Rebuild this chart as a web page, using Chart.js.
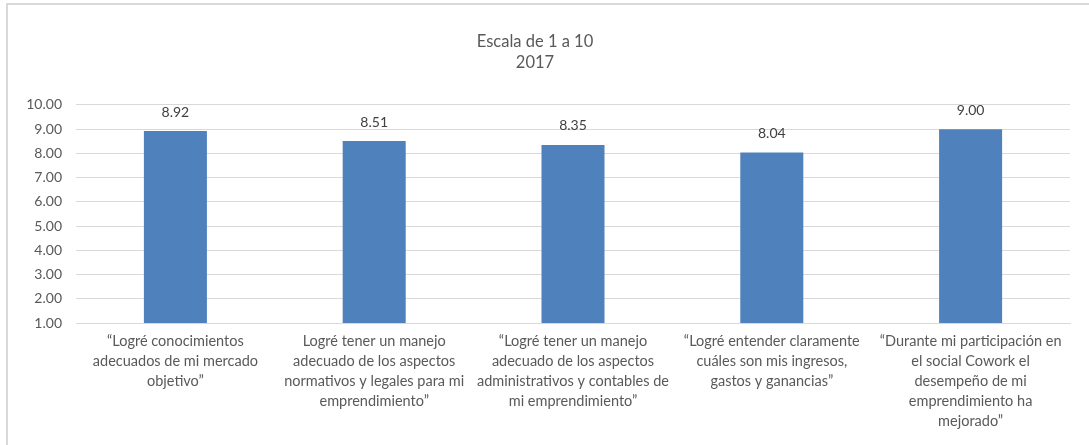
<!DOCTYPE html>
<html>
<head>
<meta charset="utf-8">
<script src="https://cdn.jsdelivr.net/npm/chart.js@4.4.1/dist/chart.umd.min.js"></script>
<style>
  html, body { margin: 0; padding: 0; background: #fff; }
  #wrap { position: relative; width: 1089px; height: 445px; }
  #frame { position: absolute; left: 6px; top: 3px; right: 0; bottom: 0;
           border-left: 2px solid #d9d9d9; border-top: 2px solid #d9d9d9; }
  canvas { position: absolute; left: 0; top: 0; }
</style>
</head>
<body>
<div id="wrap">
  <div id="frame"></div>
  <canvas id="chart" width="1089" height="445"></canvas>
</div>
<script>
// categorias (ya partidas en lineas como en el original)
var categorias = [
    ["\u201cLogré conocimientos", "adecuados de mi mercado", "objetivo\u201d"],
    ["Logré tener un manejo", "adecuado de los aspectos", "normativos y legales para mi", "emprendimiento\u201d"],
    ["\u201cLogré tener un manejo", "adecuado de los aspectos", "administrativos y contables de", "mi emprendimiento\u201d"],
    ["\u201cLogré entender claramente", "cuáles son mis ingresos,", "gastos y ganancias\u201d"],
    ["\u201cDurante mi participación en", "el social Cowork el", "desempeño de mi", "emprendimiento ha", "mejorado\u201d"]
];
var puntajes = [8.92, 8.51, 8.35, 8.04, 9.00];
var titulo = ["Escala de 1 a 10", "2017"];
var escalaMin = 1, escalaMax = 10, paso = 1;

var fuente = "Lato, 'Open Sans', sans-serif";
var gris = "#595959";

// etiquetas de valor encima de cada barra
var etiquetas = {
    id: 'etiquetas',
    afterDatasetsDraw: function(chart) {
        var ctx = chart.ctx;
        var meta = chart.getDatasetMeta(0);
        ctx.save();
        ctx.font = "14px " + fuente;
        ctx.fillStyle = "#404040";
        ctx.textAlign = "center";
        ctx.textBaseline = "middle";
        meta.data.forEach(function(bar, i) {
            ctx.fillText(puntajes[i].toFixed(2), bar.x, bar.y - 19);
        });
        ctx.restore();
    }
};

var ctx = document.getElementById("chart").getContext('2d');
var grafico = new Chart(ctx, {
    type: 'bar',
    data: {
        labels: categorias,
        datasets: [{
            data: puntajes,
            backgroundColor: "#4f81bd",
            borderWidth: 0,
            categoryPercentage: 0.317,
            barPercentage: 1.0
        }]
    },
    options: {
        responsive: false,
        animation: false,
        layout: { padding: { left: 0, right: 19, top: 0, bottom: 0 } },
        plugins: {
            legend: { display: false },
            tooltip: { enabled: false },
            title: {
                display: true,
                text: titulo,
                color: gris,
                font: { family: fuente, size: 16.5, weight: 'normal', lineHeight: 1.27 },
                padding: { top: 31, bottom: 32 }
            }
        },
        scales: {
            x: {
                grid: { display: false, drawTicks: false },
                border: { display: true, color: "#d9d9d9", width: 1 },
                ticks: {
                    color: gris,
                    font: { family: fuente, size: 14.5, lineHeight: 1.38 },
                    padding: 8,
                    maxRotation: 0,
                    autoSkip: false
                },
                afterFit: function(scale) { scale.height = 122; }
            },
            y: {
                min: escalaMin,
                max: escalaMax,
                grid: { color: "#d9d9d9", lineWidth: 1, drawTicks: false },
                border: { display: false },
                ticks: {
                    stepSize: paso,
                    color: gris,
                    font: { family: fuente, size: 14 },
                    padding: 14,
                    callback: function(v) { return Number(v).toFixed(2); }
                },
                afterFit: function(scale) { scale.width = 76; }
            }
        }
    },
    plugins: [etiquetas]
});
</script>
</body>
</html>
